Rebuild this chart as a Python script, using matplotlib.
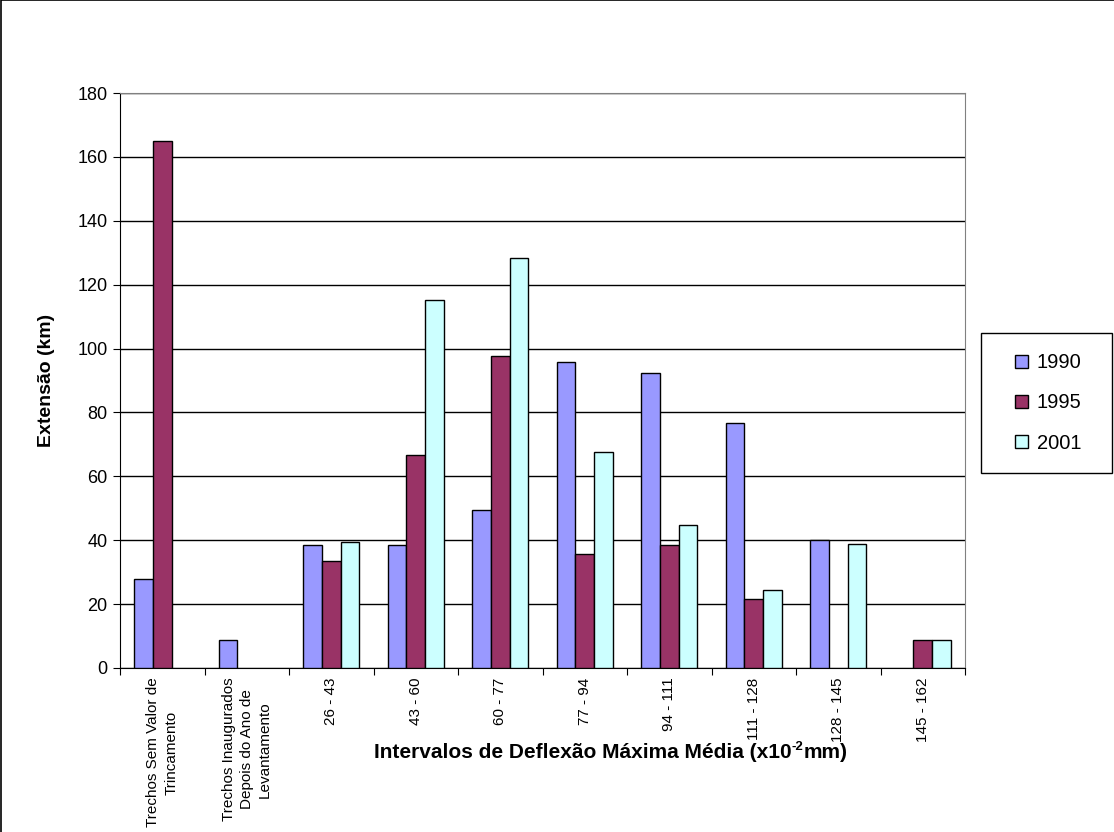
import numpy as np
import matplotlib
matplotlib.use("Agg")
from matplotlib import pyplot as plt
from matplotlib.lines import Line2D
from matplotlib.patches import Rectangle

plt.rcParams['font.family'] = ['Liberation Sans', 'DejaVu Sans']

categorias = ['Trechos Sem Valor de\nTrincamento',
              'Trechos Inaugurados\nDepois do Ano de\nLevantamento',
              '26 - 43', '43 - 60', '60 - 77', '77 - 94',
              '94 - 111', '111 - 128', '128 - 145', '145 - 162']
anos = ['1990', '1995', '2001']
v1990 = [28.0, 8.9, 38.4, 38.4, 49.4, 95.9, 92.3, 76.7, 40.0, 0]
v1995 = [165.0, 0, 33.4, 66.8, 97.7, 35.6, 38.4, 21.7, 0, 8.9]
v2001 = [0, 0, 39.5, 115.1, 128.4, 67.7, 44.9, 24.4, 38.7, 8.9]
cores = ['#9999ff', '#993366', '#ccffff']

W, H = 1114, 832
fig = plt.figure(figsize=(W / 100, H / 100), dpi=100, facecolor='w')
# borda superior e esquerda da área do gráfico
fig.add_artist(Line2D([0.0005, 0.0005, 1], [0, 0.9995, 0.9995], transform=fig.transFigure,
                      color='black', linewidth=1.2))

ax = fig.add_axes([120 / W, 1 - 668 / H, 845 / W, 575 / H])

x = np.arange(len(categorias))
w = 1 / 4.5
for i, (vals, cor, ano) in enumerate(zip([v1990, v1995, v2001], cores, anos)):
    vals = np.array(vals)
    ok = vals > 0  # valores nulos não são desenhados
    ax.bar(x[ok] + (i - 1) * w, vals[ok], width=w, color=cor, edgecolor='black',
           linewidth=1.0, label=ano, zorder=3)

ax.set_xlim(-0.5, len(categorias) - 0.5)
ax.set_ylim(0, 180)
ax.set_yticks(np.arange(0, 181, 20))
ax.yaxis.grid(True, color='black', linewidth=1.0, zorder=0)
ax.set_axisbelow(True)

# ticks entre os grupos, rótulos no centro
ax.set_xticks(np.arange(-0.5, len(categorias), 1))
ax.set_xticklabels([])
ax.set_xticks(x, minor=True)
ax.set_xticklabels(categorias, minor=True, rotation=90, va='top', ha='center',
                   fontsize=11, linespacing=1.35)
ax.tick_params(axis='x', which='minor', length=0, pad=7)
ax.tick_params(axis='x', which='major', direction='out', length=5, color='black')
ax.tick_params(axis='y', direction='out', length=5, labelsize=13, pad=4)

for s in ['top', 'right']:
    ax.spines[s].set_color('#808080')
for s in ['left', 'bottom']:
    ax.spines[s].set_color('black')

ax.set_ylabel('Extensão (km)', fontsize=14, fontweight='bold')
ax.yaxis.set_label_coords((55 - 120) / 845, 0.5)

# título do eixo x com expoente (três pedaços)
base_y = 1 - 758 / H
t1 = fig.text(0, base_y, 'Intervalos de Deflexão Máxima Média (x10', fontsize=15,
              fontweight='bold', va='baseline', ha='left')
t2 = fig.text(0, base_y + 8 / H, '-2', fontsize=9.5, fontweight='bold', va='baseline', ha='left')
t3 = fig.text(0, base_y, 'mm)', fontsize=15, fontweight='bold', va='baseline', ha='left')
fig.canvas.draw()
r = fig.canvas.get_renderer()
larg = [t.get_window_extent(r).width for t in (t1, t2, t3)]
x0 = 611 - sum(larg) / 2
for t, lw in zip((t1, t2, t3), larg):
    t.set_x(x0 / W)
    x0 += lw

# legenda com moldura própria
leg = ax.legend(loc='center', bbox_to_anchor=(1048 / W, 1 - 403 / H),
                bbox_transform=fig.transFigure, frameon=False, fontsize=14.5,
                handlelength=0.65, handleheight=0.65, labelspacing=1.05,
                handletextpad=0.45)
fig.patches.append(Rectangle((981 / W, 1 - 473 / H), 131 / W, 140 / H,
                             transform=fig.transFigure, fill=False,
                             edgecolor='black', linewidth=1.0))

fig.savefig('out.png', dpi=100, facecolor='w')
